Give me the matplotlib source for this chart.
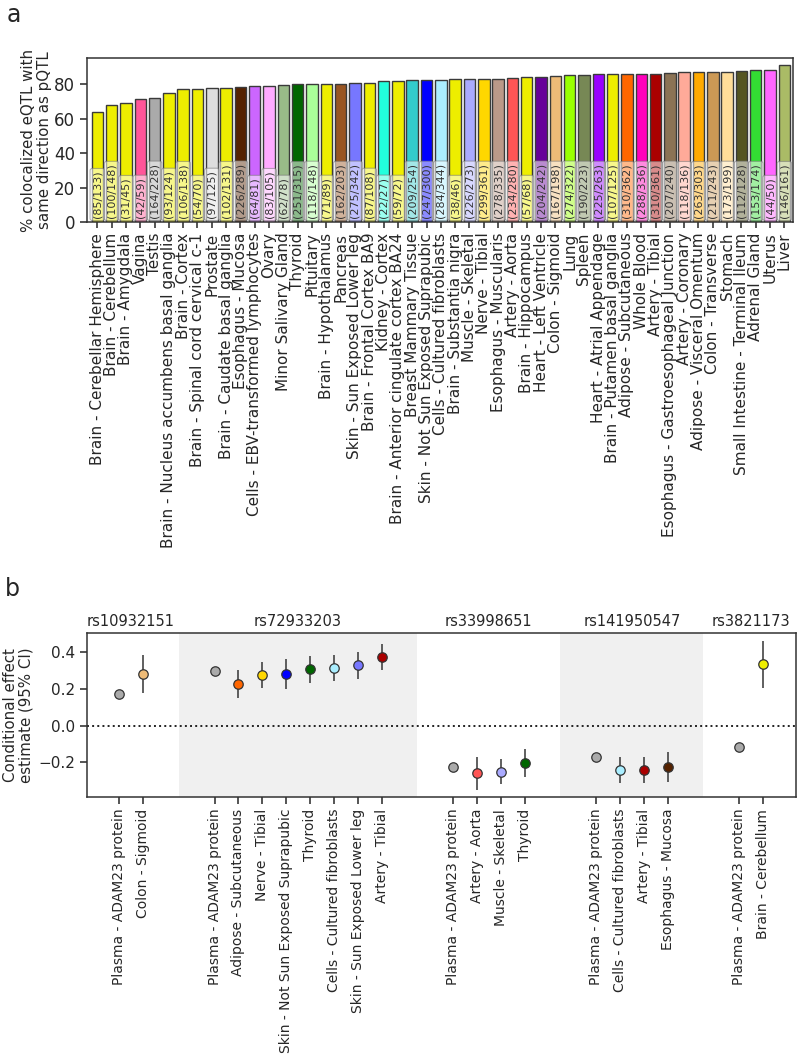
import matplotlib
matplotlib.use("Agg")
import matplotlib.pyplot as plt
import matplotlib.transforms as mtransforms
import numpy as np

plt.rcParams["font.family"] = ["DejaVu Sans"]
plt.rcParams["text.color"] = "#262626"
plt.rcParams["axes.labelcolor"] = "#262626"
plt.rcParams["xtick.color"] = "#262626"
plt.rcParams["ytick.color"] = "#262626"

# panel a: colocalized eQTLs with the same direction as the pQTL
tissues = [
    "Brain - Cerebellar Hemisphere", "Brain - Cerebellum", "Brain - Amygdala", "Vagina", "Testis",
    "Brain - Nucleus accumbens basal ganglia", "Brain - Cortex", "Brain - Spinal cord cervical c-1",
    "Prostate", "Brain - Caudate basal ganglia", "Esophagus - Mucosa", "Cells - EBV-transformed lymphocytes",
    "Ovary", "Minor Salivary Gland", "Thyroid", "Pituitary", "Brain - Hypothalamus", "Pancreas",
    "Skin - Sun Exposed Lower leg", "Brain - Frontal Cortex BA9", "Kidney - Cortex",
    "Brain - Anterior cingulate cortex BA24", "Breast Mammary Tissue", "Skin - Not Sun Exposed Suprapubic",
    "Cells - Cultured fibroblasts", "Brain - Substantia nigra", "Muscle - Skeletal", "Nerve - Tibial",
    "Esophagus - Muscularis", "Artery - Aorta", "Brain - Hippocampus", "Heart - Left Ventricle",
    "Colon - Sigmoid", "Lung", "Spleen", "Heart - Atrial Appendage", "Brain - Putamen basal ganglia",
    "Adipose - Subcutaneous", "Whole Blood", "Artery - Tibial", "Esophagus - Gastroesophageal Junction",
    "Artery - Coronary", "Adipose - Visceral Omentum", "Colon - Transverse", "Stomach",
    "Small Intestine - Terminal Ileum", "Adrenal Gland", "Uterus", "Liver",
]
n_same = [85, 100, 31, 42, 164, 93, 106, 54, 97, 102, 226, 64, 83, 62, 251, 118, 71, 162,
          275, 87, 22, 59, 209, 247, 284, 38, 226, 299, 278, 234, 57, 204, 167, 274, 190,
          225, 107, 310, 288, 310, 207, 118, 263, 211, 173, 112, 153, 44, 146]
n_total = [133, 148, 45, 59, 228, 124, 138, 70, 125, 131, 289, 81, 105, 78, 315, 148, 89, 203,
           342, 108, 27, 72, 254, 300, 344, 46, 273, 361, 335, 280, 68, 242, 198, 322, 223,
           263, 125, 362, 336, 361, 240, 136, 303, 243, 199, 128, 174, 50, 161]
tissue_colors = [
    "#EEEE00", "#EEEE00", "#EEEE00", "#FF5599", "#AAAAAA", "#EEEE00", "#EEEE00", "#EEEE00",
    "#DDDDDD", "#EEEE00", "#552200", "#CC66FF", "#FFAAFF", "#99BB88", "#006600", "#AAFF99",
    "#EEEE00", "#995522", "#7777FF", "#EEEE00", "#22FFDD", "#EEEE00", "#33CCCC", "#0000FF",
    "#AAEEFF", "#EEEE00", "#AAAAFF", "#FFD700", "#BB9988", "#FF5555", "#EEEE00", "#660099",
    "#EEBB77", "#99FF00", "#778855", "#9900FF", "#EEEE00", "#FF6600", "#FF00BB", "#AA0000",
    "#8B7355", "#FFAA99", "#FFAA00", "#CC9955", "#FFDD99", "#555522", "#33DD33", "#FF66FF",
    "#AABB66",
]

# panel b: conditional effect estimates per lead variant
plasma_label = "Plasma - ADAM23 protein"
plasma_color = "#AAAAAA"
snps = ["rs10932151", "rs72933203", "rs33998651", "rs141950547", "rs3821173"]
snp_tissues = [
    [plasma_label, "Colon - Sigmoid"],
    [plasma_label, "Adipose - Subcutaneous", "Nerve - Tibial", "Skin - Not Sun Exposed Suprapubic",
     "Thyroid", "Cells - Cultured fibroblasts", "Skin - Sun Exposed Lower leg", "Artery - Tibial"],
    [plasma_label, "Artery - Aorta", "Muscle - Skeletal", "Thyroid"],
    [plasma_label, "Cells - Cultured fibroblasts", "Artery - Tibial", "Esophagus - Mucosa"],
    [plasma_label, "Brain - Cerebellum"],
]
snp_beta = [
    [0.175, 0.282],
    [0.298, 0.226, 0.278, 0.282, 0.308, 0.317, 0.330, 0.375],
    [-0.224, -0.260, -0.251, -0.204],
    [-0.171, -0.240, -0.240, -0.224],
    [-0.116, 0.335],
]
snp_lo = [
    [0.168, 0.177],
    [0.291, 0.149, 0.204, 0.200, 0.235, 0.246, 0.255, 0.302],
    [-0.231, -0.351, -0.320, -0.278],
    [-0.178, -0.311, -0.311, -0.305],
    [-0.123, 0.207],
]
snp_hi = [
    [0.182, 0.386],
    [0.305, 0.304, 0.349, 0.364, 0.380, 0.386, 0.402, 0.447],
    [-0.217, -0.171, -0.184, -0.129],
    [-0.164, -0.169, -0.169, -0.144],
    [-0.109, 0.462],
]

color_of = dict(zip(tissues, tissue_colors))
color_of[plasma_label] = plasma_color

fig = plt.figure(figsize=(7.98, 10.56), dpi=100)

# ---- panel a ----
ax_a = fig.add_axes([0.109, 0.7895, 0.8847, 0.1559])
pct = 100 * np.array(n_same) / np.array(n_total)
x_a = np.arange(len(tissues))
ax_a.bar(x_a, pct, width=0.8, color=tissue_colors, edgecolor="#3a3a3a", linewidth=1.0)
for xi, k, n in zip(x_a, n_same, n_total):
    ax_a.text(xi, 2.3, f"({k}/{n})", rotation=90, ha="center", va="bottom", fontsize=8,
              color="#333333",
              bbox=dict(boxstyle="round,pad=0.2", fc="white", ec="#777777", lw=0.8, alpha=0.55))
ax_a.set_xlim(-0.72, len(tissues) - 0.4)
ax_a.set_ylim(0, 95.2)
ax_a.set_yticks([0, 20, 40, 60, 80])
ax_a.set_xticks(x_a)
ax_a.set_xticklabels(tissues, rotation=90, fontsize=11)
ax_a.tick_params(axis="y", labelsize=12, length=5, width=1.1)
ax_a.tick_params(axis="x", length=4, width=1.1)
ax_a.set_ylabel("% colocalized eQTL with\nsame direction as pQTL", fontsize=10.8, linespacing=1.05)
ax_a.yaxis.set_label_coords(-0.05, 0.5)
for spine in ax_a.spines.values():
    spine.set_color("#333333")
    spine.set_linewidth(1.1)

# ---- panel b ----
ax_b = fig.add_axes([0.109, 0.2453, 0.8885, 0.1553])
gap = 3
pos = 0
tick_pos, tick_lab = [], []
trans = mtransforms.blended_transform_factory(ax_b.transData, ax_b.transAxes)
for gi, (snp, names, beta, lo, hi) in enumerate(zip(snps, snp_tissues, snp_beta, snp_lo, snp_hi)):
    xs = np.arange(pos, pos + len(names))
    if gi % 2 == 1:
        ax_b.axvspan(xs[0] - 1.5, xs[-1] + 1.5, color="#F0F0F0", zorder=0, lw=0)
    for xv, nm, b, l, h in zip(xs, names, beta, lo, hi):
        ax_b.vlines(xv, l, h, color="#444444", linewidth=1.2, zorder=2)
        ax_b.plot(xv, b, "o", markersize=6.8, markerfacecolor=color_of[nm],
                  markeredgecolor="#333333", markeredgewidth=0.9, zorder=3)
    ax_b.text(xs.mean(), 1.025, snp, transform=trans, ha="center", va="bottom", fontsize=10.5)
    tick_pos.extend(xs)
    tick_lab.extend(names)
    pos = xs[-1] + gap

ax_b.axhline(0, color="#222222", linestyle=":", linewidth=1.4, zorder=1)
ax_b.set_xlim(-1.35, tick_pos[-1] + 1.38)
ax_b.set_ylim(-0.389, 0.506)
ax_b.set_yticks([-0.2, 0.0, 0.2, 0.4])
ax_b.set_xticks(tick_pos)
ax_b.set_xticklabels(tick_lab, rotation=90, fontsize=10)
ax_b.tick_params(axis="y", labelsize=11, length=5, width=1.1)
ax_b.tick_params(axis="x", length=5, width=1.1)
ax_b.set_ylabel("Conditional effect\nestimate (95% CI)", fontsize=10.8, linespacing=1.05)
ax_b.yaxis.set_label_coords(-0.075, 0.5)
for spine in ax_b.spines.values():
    spine.set_color("#333333")
    spine.set_linewidth(1.1)

fig.text(0.008, 0.9975, "a", fontsize=17, va="top", ha="left")
fig.text(0.006, 0.4535, "b", fontsize=17, va="top", ha="left")

fig.savefig("out.png", dpi=100, facecolor="white")
